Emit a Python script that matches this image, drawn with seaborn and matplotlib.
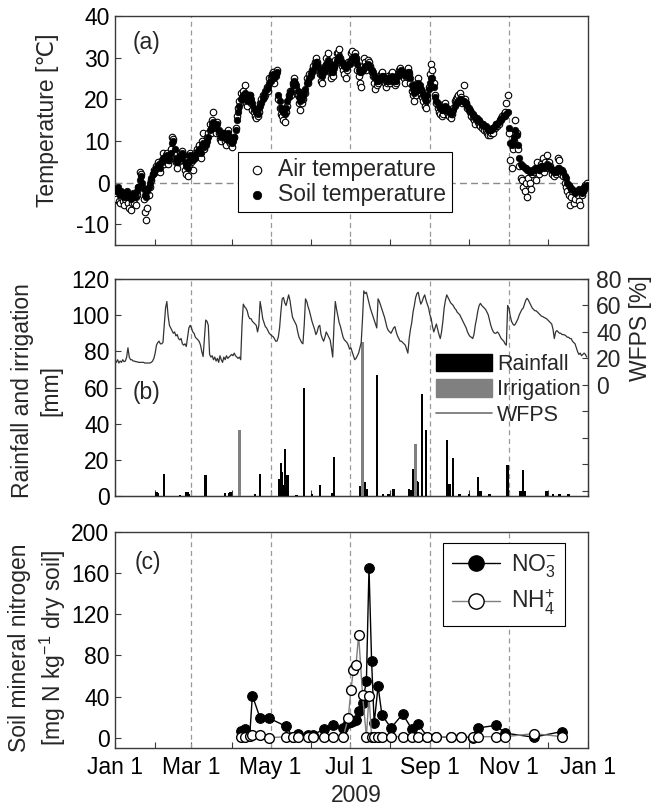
import numpy as np
import pandas as pd
import matplotlib
matplotlib.use("Agg")
import matplotlib.pyplot as plt
import seaborn as sns
from matplotlib.patches import Patch
from matplotlib.lines import Line2D

sns.set_style("ticks")
plt.rcParams["font.family"] = ["Liberation Sans", "DejaVu Sans"]
plt.rcParams["mathtext.fontset"] = "custom"
plt.rcParams["mathtext.rm"] = "Liberation Sans"
plt.rcParams["mathtext.it"] = "Liberation Sans:italic"
plt.rcParams["font.size"] = 16.5
plt.rcParams["axes.unicode_minus"] = False

# ---------------- data ----------------
# daily soil temperature (deg C), Jan 1 .. Dec 31 2009
soil_temp = [
    -1.5,-2,-1,-2.5,-3,-2,-3,-3.5,-2.5,-2,-3,-3.5,-4,-3,-2.5,-3,-3.5,-2,-1,0.5,1.5,0,-1.5,-3,-3.5,-2,-1,0,1,2,2.5,
    3,3.5,4,4.5,3.5,5,6,5.5,6,6.5,5.5,6,7,9.5,10,8,6,5,5.5,6.5,6,7,6.5,5,4,3.5,5,6.5,
    6,5.5,6.5,6,7,7.5,8,7,9,9.5,8.5,9,10,11,12.5,13,14,14.5,13,13.5,14,12.5,12,11,11.5,12,11,10.5,12,11,10,
    9.5,10,11,12.5,15,17,18.5,20,20.5,21,21.5,20,19.5,20,21,20,19,18,17.5,17,16.5,18,18.5,19,20,21,22,22.5,23,24,
    24.5,25.5,26,25,25.5,26.5,21,19.5,18,17.5,17,16.5,18,19.5,20.5,21.5,22,23.5,24.5,24,23.5,22,20.5,19.5,20,21,21.5,22.5,24,24.5,25,
    25.5,26.5,27,28,29,28.5,28,27,26,25.5,26.5,27.5,28.5,29.5,28.5,27.5,26.5,26.5,27.5,28.5,29.5,30,30.5,29.5,29,28.5,28,27.5,28,28.5,
    28.5,29.5,30,30,30.5,29.5,28.5,27,26.5,26.5,27,27.5,28,28,28.5,28,27.5,27,26.5,25.5,25,24.5,24.5,25,25,25.5,25.5,25,24.5,24.5,25,
    24.5,25,25.5,25,24.5,24.5,25.5,26,26.5,27,26.5,26,25.5,26,26.5,26.5,25,23.5,22.5,21.5,22,23.5,24,23.5,22.5,22,21,20,19.5,21,22.5,
    24,25,25,23,20.5,19.5,19,18.5,18,17.5,17.5,18,18.5,18,17.5,17,16.5,17,17.5,18.5,19,19,19.5,20,20,19.5,19.5,19,19,18.5,
    18,17.5,17,16.5,16,15.5,15.5,15,15,14.5,14,14,13.5,13.5,13,12.5,12.5,12.5,13,13,13.5,14,14,14.5,15,15,15.5,16,16,16.5,17,
    13,9.5,9,10,11,12.5,11.5,9,6,4.5,4,4,3.5,3.5,3,3,2.5,2.5,3,3,3.5,3.5,3.5,3,3.5,4,4,3.5,4,4.5,
    4,4,3.5,3,3,2.5,2.5,3,3.5,3.5,3,3,2.5,1.5,1,0,-0.5,-1,-1.5,-1.5,-2,-2.5,-2,-2,-1.5,-2,-2.5,-2,-1,-1,-0.5,
]
# daily air temperature (deg C)
air_temp = [
    -3,-4,-2,-4.5,-5,-3.5,-4.5,-5.5,-4,-3.5,-5,-6,-6.5,-5,-4,-5,-5.5,-3,-1,2.5,2,-1,-4,-7,-9,-6,-3,-1,0.5,2,3,
    2.5,4,5,3.5,2.5,5.5,7,4.5,6.5,7,4.5,5.5,8,11,10.5,7,5,3.5,5,7,5.5,7.5,6,3,2,1.5,4,7,
    5,3,6,7,8,7,9,6,10,12,8,9.5,11,12,14,12,15,17,14,12,14.5,12,10.5,10,12,11,10,9,12.5,10,9.5,
    8.5,10.5,11,13,16,18,19.5,21.5,20,22,23.5,19,18.5,21,21,19,17.5,17,16,15.5,16,17,19,20,21,20.5,21,23,22,25,
    25,26,26.5,24,26,27,20,18,16.5,16,15,14.5,17,18.5,21,22,21,24,25,23,22.5,21,19,17.5,19,20,22,21.5,25,24,26,
    26,27,28,29,30,29,27,26,24.5,24,27,28,30,31,29,26.5,25,25.5,28,29.5,31,31,32,30,28,27,26,25,27,29,
    29,31,31.5,30,31,30,27,25.5,24,23,28,30,29,27,29.5,29,28,26.5,25.5,24,22.5,23.5,24,25.5,26,26.5,25,24,23,24,25.5,
    24,26,26.5,24.5,23.5,24,26,27,27.5,26.5,25.5,25,24,26.5,27.5,26,24,22,21,19.5,21,24,25,22.5,21,20.5,19.5,18.5,18,20,23,
    26,28.5,27,24,21,19,18,17,16.5,16,16.5,18,19,17,16.5,16,15.5,16.5,18,19.5,20,20.5,21,21.5,20.5,19,23.5,20,19,18,
    17.5,17,16,15.5,15,14,15,14.5,14,13.5,13,13.5,12.5,12.5,12,11.5,11.5,12,12.5,12,13,14,13.5,14,15,15.5,16,16.5,17,19,21,
    12,5.5,3.5,8,10,15,12,8,4,1,0.5,-1,-2,0,-3.5,1,0,-1.5,2,2.5,3,0.5,5,2,3,4.5,6,2.5,5,6.5,
    3.5,5,4,2,3,1.5,2,3,6,5.5,2,2.5,1.5,0,-1,-2,-3,-5.5,-3.5,-2,-5,-4,-2.5,-3,-4.5,-5.5,-3,-2,-1.5,-0.5,0,
]
# daily water-filled pore space (%)
wfps = [
    18,17,19,16.5,18,17,19,17.5,18,21,28,21,19,19,18,18,17.5,17.5,17,17,17,17,17,16.5,16.5,16.5,16.5,16.5,17,18,20,
    24,30,32,33,31,31,32,45,58,63,52,45,43,41,39,40,37,38,35,34,35,31,30,31,29,36,43,45,
    43,40,39,36,35,34,32.7,30,25,21.4,35,49,48,45,23,21,22,19,21,18,20,17,22,19,17,21,19,22,20,21,22,
    23,22,24,22,21,20,21,19,45,61,59,58,56,52,50,50,48,47,46,45,40,45,63,57,50,47,44,43,41,39,
    38,37,36.5,35,33,33,36,43,55,65,66,62,60,64,68,64,57,51,49,47,45,40,36,34,32,31,45,65,63,59,56,
    52,48,45,42,38,40,44,45,38,35,33,36,40,38,36,34,28,21,45,63,57,52,47,44,40,36,34,33,32,30,
    27,28,25,22,19,20,22,24,28,32,50,71,69,70,66,62,58,55,52,49,46,43,65,63,60,57,54,51,47,43,41,
    40,39,41,43,44,40,37,35,33,33,32,31,30,27,24,35,42,47,55,60,66,69,70,65,61,63,66,68,64,61,58,
    53,50,44,40,43,46,42,38,35,40,48,58,64,68,66,64,62,61,60,58,57,55,54,53,51,49,47,45,43,40,
    38,36.5,36,35,38,45,50,56,60,61.6,60,59,58,57,55,53,49,45,42,40,39,39,40,39,37,35,34,33,31,30,60,
    58,52,48,46,45,46,48,50,53,55,57,58,61,64,65.4,64,62,60,58,57,56,56,55,54,53,52,51.6,51,50.5,50,
    49,48,47,46,42,35,40,41,40,39,39,38,38,37.7,37,36,36,35,35,33,32,31,28,25,23,24,22,23,24,23,21,
]
# rainfall events: day of year (0 = Jan 1) and amount (mm)
rain_day = [32, 33, 38, 50, 55, 56, 57, 70, 85, 88, 89, 108, 112, 127, 128, 129, 130, 131, 133,
            140, 146, 152, 158, 168, 169, 189, 193, 194, 202, 207, 211, 215, 227, 228, 230, 233,
            234, 237, 240, 256, 258, 261, 266, 273, 280, 282, 289, 303, 313, 315, 316, 333, 338,
            343, 350]
rain_mm = [2.4, 1.5, 12.2, 0.8, 2.4, 2.0, 1.2, 11.4, 1.5, 1.5, 2.4, 1.0, 12.2, 9.4, 18.4, 13.5, 6.0,
           26.0, 11.6, 0.8, 60.0, 1.2, 6.0, 1.5, 21.8, 5.5, 7.5, 4.0, 67.0, 1.0, 1.0, 4.0, 3.7, 3.5,
           14.7, 8.3, 8.0, 56.4, 36.5, 31.0, 6.5, 21.2, 1.0, 1.0, 10.7, 2.5, 1.0, 17.1, 2.5, 14.4,
           3.0, 2.8, 1.0, 1.0, 1.0]
# irrigation events
irr_day = [96, 191, 232]
irr_mm = [36.5, 85.0, 29.0]

# soil mineral nitrogen sampling
n_day = [97, 100, 104, 106, 112, 119, 132, 137, 141, 149, 153, 161, 168, 176, 180, 182, 184, 186,
         188, 191, 194, 196, 198, 200, 203, 206, 213, 222, 229, 234, 241, 248, 259, 267, 276, 280,
         294, 301, 323, 345]
no3 = [7, 8, 3, 41, 19, 19, 11, 1, 4, 3, 3, 8, 12, 9, 14, 15, 16, 17, 26, 34, 55, 165, 75, 14, 50,
       22, 9.5, 23, 8.5, 13, 1, 1, 0.5, 0.5, 0, 9.5, 12, 4.5, 0.5, 6]
nh4 = [1, 1, 2, 3, 3, 0, 1, 1, 1, 1, 1, 1, 1, 0.5, 19, 46, 66, 71, 100, 42, 1, 41, 1, 1, 1, 1, 1,
       1, 1, 1, 1, 1, 1, 1, 1, 1, 1, 1, 4, 1]

month_labels = ["Jan 1", "Mar 1", "May 1", "Jul 1", "Sep 1", "Nov 1", "Jan 1"]

# ---------------- figure ----------------
start = pd.Timestamp("2009-01-01")
end = pd.Timestamp("2010-01-01")
daily_dates = pd.date_range(start, periods=len(soil_temp), freq="D")
wf_dates = pd.date_range(start, periods=len(wfps), freq="D")
rain_dates = start + pd.to_timedelta(rain_day, unit="D")
irr_dates = start + pd.to_timedelta(irr_day, unit="D")
n_dates = start + pd.to_timedelta(n_day, unit="D")

major = [pd.Timestamp(f"2009-{m:02d}-01") for m in (1, 3, 5, 7, 9, 11)] + [end]
minor = [pd.Timestamp(f"2009-{m:02d}-01") for m in (2, 4, 6, 8, 10, 12)]
vlines = major[1:-1]

W, H = 651, 810
fig = plt.figure(figsize=(W / 100, H / 100), dpi=100)
L, R = 115 / W, 588 / W


def add_ax(top_px, bot_px):
    return fig.add_axes([L, 1 - bot_px / H, R - L, (bot_px - top_px) / H])


axa = add_ax(16, 245)
axb = add_ax(279, 496)
axc = add_ax(532, 748)

SP = "#3a3a3a"
DASH = dict(color="#999999", lw=0.9, ls=(0, (4, 3)), zorder=1)

for ax in (axa, axb, axc):
    for v in vlines:
        ax.axvline(v, **DASH)
    ax.set_xlim(start, end)
    ax.set_xticks(major)
    ax.set_xticks(minor, minor=True)
    ax.set_xticklabels(month_labels)
    ax.tick_params(axis="both", which="both", direction="in", length=4, width=0.8,
                   color=SP, labelcolor="black", pad=4)
    ax.tick_params(axis="x", which="major", pad=6)
    for s in ax.spines.values():
        s.set_color(SP)
        s.set_linewidth(1.0)
    ax.set_xlabel("")
    ax.set_ylabel("")

# ---- panel (a)
dfa = pd.DataFrame({"date": daily_dates, "air": air_temp, "soil": soil_temp})
axa.axhline(0, color="#8a8a8a", lw=1.0, ls=(0, (5, 3)), zorder=1)
sns.scatterplot(data=dfa, x="date", y="air", ax=axa, marker="o", s=22, color="white",
                edgecolor="black", linewidth=0.8, label="Air temperature", zorder=3)
sns.scatterplot(data=dfa, x="date", y="soil", ax=axa, marker="o", s=22, color="black",
                edgecolor="black", linewidth=0.5, label="Soil temperature", zorder=4)
axa.set_ylim(-15, 40)
axa.set_yticks([-10, 0, 10, 20, 30, 40])
axa.set_xlabel("")
axa.set_ylabel("")
axa.tick_params(labelbottom=False)
lg = axa.legend(loc="upper left", bbox_to_anchor=(238 / W, 1 - 152 / H),
                bbox_transform=fig.transFigure, frameon=True, fancybox=False,
                edgecolor="black", borderaxespad=0, handletextpad=0.3, markerscale=1.3,
                borderpad=0.25, labelspacing=0.1, handlelength=1.2, framealpha=1)
lg.get_frame().set_linewidth(0.8)

# ---- panel (b)
axb.bar(rain_dates, rain_mm, width=1.9, color="black", linewidth=0, zorder=3)
axb.bar(irr_dates, irr_mm, width=1.9, color="#808080", linewidth=0, zorder=3)
axb.set_ylim(0, 120)
axb.set_yticks(range(0, 121, 20))
axb.tick_params(labelbottom=False)
axb2 = axb.twinx()
sns.lineplot(x=wf_dates, y=wfps, ax=axb2, color="#333333", lw=0.9, legend=False)
axb2.set_xlim(start, end)
axb2.set_ylim(-84, 80)
axb2.set_yticks(range(-80, 81, 20))
axb2.set_yticklabels(["" if t < 0 else str(t) for t in range(-80, 81, 20)])
axb2.tick_params(axis="y", direction="in", length=4, width=0.8, color=SP, pad=6)
axb2.set_ylabel("")
for s in axb2.spines.values():
    s.set_color(SP)
handles_b = [Patch(facecolor="black", edgecolor="black"),
             Patch(facecolor="#808080", edgecolor="#808080"),
             Line2D([0], [0], color="#707070", lw=1.2)]
axb2.legend(handles_b, ["Rainfall", "Irrigation", "WFPS"], loc="upper left",
            bbox_to_anchor=(436 / W, 1 - 354 / H), bbox_transform=fig.transFigure,
            frameon=False, borderaxespad=0, borderpad=0, handlelength=2.6,
            handleheight=0.85, handletextpad=0.25, labelspacing=0.2, fontsize=15.5)

# ---- panel (c)
sns.lineplot(x=n_dates, y=no3, ax=axc, color="black", lw=1.0, marker="o", markersize=7,
             markerfacecolor="black", markeredgecolor="black", legend=False, zorder=3)
sns.lineplot(x=n_dates, y=nh4, ax=axc, color="#7f7f7f", lw=1.0, marker="o", markersize=7,
             markerfacecolor="white", markeredgecolor="black", markeredgewidth=1.0,
             legend=False, zorder=4)
axc.set_ylim(-10, 200)
axc.set_yticks(range(0, 201, 40))
axc.set_xlabel("")
axc.set_ylabel("")
handles_c = [Line2D([0], [0], color="black", lw=1.0, marker="o", markersize=11,
                    markerfacecolor="black", markeredgecolor="black"),
             Line2D([0], [0], color="#7f7f7f", lw=1.0, marker="o", markersize=11,
                    markerfacecolor="white", markeredgecolor="black")]
lgc = axc.legend(handles_c, [r"NO$_3^{-}$", r"NH$_4^{+}$"], loc="upper left",
                 bbox_to_anchor=(443 / W, 1 - 543 / H), bbox_transform=fig.transFigure,
                 frameon=True, fancybox=False, edgecolor="black", borderaxespad=0,
                 handlelength=2.1, handletextpad=0.45, borderpad=0.4, labelspacing=0.35,
                 framealpha=1)
lgc.get_frame().set_linewidth(0.8)

# ---- labels
fig.text(48 / W, 1 - 120 / H, "Temperature [℃]", rotation=90, ha="center", va="center")
fig.text(37 / W, 1 - 391 / H, "Rainfall and irrigation\n[mm]", rotation=90, ha="center",
         va="center", multialignment="center", linespacing=1.3)
fig.text(38 / W, 1 - 648 / H, "Soil mineral nitrogen\n[mg N kg$^{-1}$ dry soil]", rotation=90,
         ha="center", va="center", multialignment="center", linespacing=1.3)
fig.text(640 / W, 1 - 328 / H, "WFPS [%]", rotation=90, ha="center", va="center")
fig.text(356 / W, 1 - 795 / H, "2009", ha="center", va="center")
fig.text(147 / W, 1 - 43 / H, "(a)", ha="center", va="center")
fig.text(147 / W, 1 - 392 / H, "(b)", ha="center", va="center")
fig.text(148 / W, 1 - 562 / H, "(c)", ha="center", va="center")

fig.savefig("out.png", dpi=100)
